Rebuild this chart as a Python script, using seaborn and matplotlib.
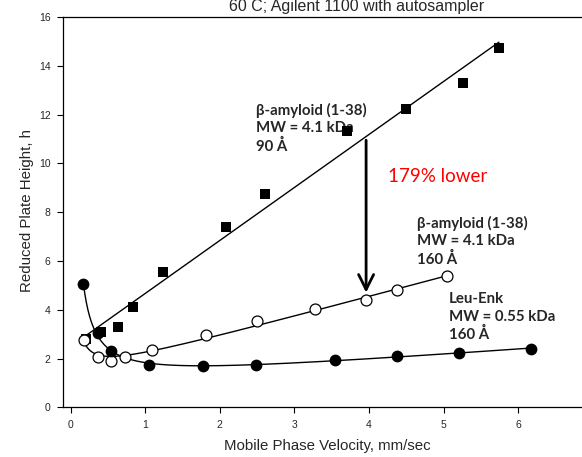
import numpy as np
import pandas as pd
import matplotlib
matplotlib.use("Agg")
import matplotlib.pyplot as plt
import seaborn as sns

# Reduced plate height vs. mobile phase velocity
# beta-amyloid (1-38) on 90 A pores (filled squares)
v_ba90 = [0.20, 0.41, 0.63, 0.83, 1.24, 2.08, 2.60, 3.70, 4.50, 5.26, 5.74]
h_ba90 = [2.80, 3.07, 3.30, 4.12, 5.56, 7.40, 8.73, 11.34, 12.21, 13.29, 14.71]

# beta-amyloid (1-38) on 160 A pores (open circles)
v_ba160 = [0.18, 0.37, 0.54, 0.73, 1.09, 1.81, 2.50, 3.27, 3.96, 4.38, 5.04]
h_ba160 = [2.75, 2.07, 1.90, 2.07, 2.35, 2.96, 3.55, 4.03, 4.38, 4.81, 5.37]

# Leu-Enk on 160 A pores (filled circles)
v_le = [0.17, 0.36, 0.54, 1.05, 1.77, 2.48, 3.54, 4.38, 5.20, 6.17]
h_le = [5.05, 3.03, 2.31, 1.75, 1.68, 1.75, 1.93, 2.09, 2.24, 2.40]

x_ticks = [0, 1, 2, 3, 4, 5, 6]
y_ticks = [0, 2, 4, 6, 8, 10, 12, 14, 16]

title = "60 C; Agilent 1100 with autosampler"
x_label = "Mobile Phase Velocity, mm/sec"
y_label = "Reduced Plate Height, h"
label_90 = "β-amyloid (1-38)\nMW = 4.1 kDa\n90 Å"
label_160 = "β-amyloid (1-38)\nMW = 4.1 kDa\n160 Å"
label_le = "Leu-Enk\nMW = 0.55 kDa\n160 Å"
label_gain = "179% lower"

sns.set_theme(style="ticks")
plt.rcParams["font.family"] = ["Liberation Sans", "DejaVu Sans"]

W, H = 582, 457
fig = plt.figure(figsize=(W / 100, H / 100), dpi=100)
ax = fig.add_axes([63.2 / W, 49.7 / H, 529.7 / W, 390.3 / H])


def van_deemter(v, h, grid):
    v = np.asarray(v)
    A = np.column_stack([np.ones_like(v), 1 / v, v])
    coef, *_ = np.linalg.lstsq(A, np.asarray(h), rcond=None)
    return coef[0] + coef[1] / grid + coef[2] * grid


# fitted curves
g90 = np.linspace(min(v_ba90), max(v_ba90), 100)
p = np.polyfit(v_ba90, h_ba90, 1)
fit90 = pd.DataFrame({"v": g90, "h": np.polyval(p, g90)})

g160 = np.linspace(min(v_ba160), max(v_ba160), 300)
fit160 = pd.DataFrame({"v": g160, "h": van_deemter(v_ba160, h_ba160, g160)})

gle = np.linspace(min(v_le), max(v_le), 300)
fitle = pd.DataFrame({"v": gle, "h": van_deemter(v_le, h_le, gle)})

for df in (fit90, fit160, fitle):
    sns.lineplot(data=df, x="v", y="h", ax=ax, color="black", lw=1.0,
                 sort=False, estimator=None, zorder=2)

sns.scatterplot(x=v_ba90, y=h_ba90, ax=ax, marker="s", s=60, color="black",
                edgecolor="black", linewidth=0, zorder=3)
sns.scatterplot(x=v_ba160, y=h_ba160, ax=ax, marker="o", s=62,
                facecolor="white", edgecolor="black", linewidth=0.9, zorder=3)
sns.scatterplot(x=v_le, y=h_le, ax=ax, marker="o", s=72, color="black",
                edgecolor="black", linewidth=0, zorder=3)

ax.set_xlim(-0.1, 7.0)
ax.set_ylim(0, 16)
ax.set_xticks(x_ticks)
ax.set_yticks(y_ticks)
ax.tick_params(axis="both", labelsize=7.5, length=4, width=0.8, color="black",
               direction="out", pad=5)
ax.set_xlabel("")
ax.set_ylabel("")
for s in ax.spines.values():
    s.set_linewidth(0.9)
    s.set_color("black")

# annotations
ann_font = ["Lato", "Open Sans", "DejaVu Sans"]
ax.text(2.49, 12.47, label_90, fontsize=10.8, fontweight="bold",
        family=ann_font, va="top", ha="left", linespacing=1.3, zorder=1)
ax.text(4.64, 7.85, label_160, fontsize=10.8, fontweight="bold",
        family=ann_font, va="top", ha="left", linespacing=1.3)
ax.text(5.07, 4.71, label_le, fontsize=10.8, fontweight="bold",
        family=ann_font, va="top", ha="left", linespacing=1.3)
ax.text(4.25, 9.48, label_gain, fontsize=13.5, color="#ff0000",
        family=ann_font, va="center", ha="left")
ax.annotate("", xy=(3.96, 4.70), xytext=(3.96, 10.95),
            arrowprops=dict(arrowstyle="->,head_length=0.9,head_width=0.45",
                            lw=2.0, color="black", shrinkA=0, shrinkB=0))

fig.text(357 / W, 1 - 7 / H, title, fontsize=11.5, ha="center", va="center")
fig.text(327.5 / W, 1 - 446 / H, x_label, fontsize=10.8, ha="center", va="center")
fig.text(27 / W, 1 - 211 / H, y_label, fontsize=10.8, ha="center", va="center",
         rotation=90)

fig.savefig("out.png", dpi=100)
